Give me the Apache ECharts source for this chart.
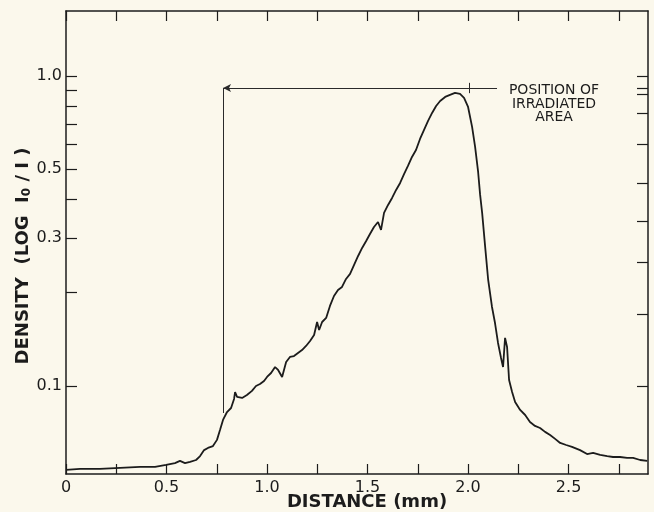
<!DOCTYPE html>
<html>
<head>
<meta charset="utf-8">
<script src="https://cdn.jsdelivr.net/npm/echarts@6/dist/echarts.min.js"></script>
<style>
  html, body { margin: 0; padding: 0; background: #fbf8ec; }
  #chart { width: 654px; height: 512px; }
</style>
</head>
<body>
<div id="chart"></div>
<script>
// Distance along the sample (mm)
const distance = [
  0.000, 0.070, 0.169, 0.269, 0.368, 0.443, 0.498, 0.542, 0.567, 0.592,
  0.617, 0.647, 0.667, 0.687, 0.706, 0.731, 0.751, 0.766, 0.781, 0.801,
  0.821, 0.836, 0.841, 0.851, 0.876, 0.900, 0.925, 0.945, 0.965, 0.985,
  1.000, 1.020, 1.040, 1.055, 1.075, 1.095, 1.114, 1.134, 1.154, 1.174,
  1.194, 1.214, 1.234, 1.249, 1.259, 1.274, 1.294, 1.313, 1.333, 1.353,
  1.373, 1.393, 1.413, 1.433, 1.453, 1.473, 1.493, 1.512, 1.532, 1.552,
  1.567, 1.582, 1.602, 1.622, 1.642, 1.662, 1.682, 1.701, 1.721, 1.741,
  1.761, 1.781, 1.801, 1.821, 1.841, 1.861, 1.886, 1.910, 1.935, 1.960,
  1.980, 2.000, 2.020, 2.035, 2.050, 2.060, 2.070, 2.085, 2.100, 2.119,
  2.134, 2.149, 2.164, 2.174, 2.184, 2.194, 2.204, 2.219, 2.234, 2.259,
  2.284, 2.308, 2.333, 2.358, 2.383, 2.408, 2.433, 2.458, 2.488, 2.517,
  2.557, 2.592, 2.622, 2.657, 2.692, 2.721, 2.756, 2.791, 2.821, 2.856,
  2.891
];
// Density (log I0/I)
const density = [
  0.0536, 0.0540, 0.0540, 0.0544, 0.0548, 0.0548, 0.0556, 0.0564, 0.0573, 0.0564,
  0.0569, 0.0577, 0.0594, 0.0621, 0.0631, 0.0640, 0.0670, 0.0721, 0.0777, 0.0824,
  0.0849, 0.0908, 0.0956, 0.0922, 0.0915, 0.0935, 0.0964, 0.1000, 0.1015, 0.1038,
  0.1069, 0.1101, 0.1151, 0.1126, 0.1069, 0.1195, 0.1240, 0.1249, 0.1278, 0.1306,
  0.1346, 0.1397, 0.1460, 0.1608, 0.1515, 0.1608, 0.1657, 0.1812, 0.1951, 0.2040,
  0.2086, 0.2214, 0.2298, 0.2457, 0.2626, 0.2787, 0.2935, 0.3092, 0.3258, 0.3381,
  0.3186, 0.3615, 0.3836, 0.4041, 0.4288, 0.4517, 0.4829, 0.5124, 0.5478, 0.5770,
  0.6263, 0.6696, 0.7158, 0.7597, 0.8003, 0.8305, 0.8556, 0.8685, 0.8815, 0.8749,
  0.8492, 0.7943, 0.6847, 0.5902, 0.4901, 0.4132, 0.3615, 0.2808, 0.2197, 0.1798,
  0.1596, 0.1376, 0.1231, 0.1151, 0.1429, 0.1336, 0.1045, 0.0956, 0.0888, 0.0837,
  0.0806, 0.0765, 0.0743, 0.0732, 0.0711, 0.0695, 0.0675, 0.0655, 0.0645, 0.0636,
  0.0621, 0.0603, 0.0608, 0.0599, 0.0594, 0.0590, 0.0590, 0.0586, 0.0586, 0.0577,
  0.0573
];

// Axis ticks and labels
const xLabelValues = [0, 0.5, 1.0, 1.5, 2.0, 2.5];
const xTickValues = [0, 0.25, 0.5, 0.75, 1.0, 1.25, 1.5, 1.75, 2.0, 2.25, 2.5, 2.75];
const yLabelValues = [0.1, 0.3, 0.5, 1.0];
const yTickValues = [0.1, 0.2, 0.3, 0.4, 0.5, 0.6, 0.7, 0.8, 0.9, 1.0];
const yRightTickValues = [0.1, 0.17, 0.25, 0.34, 0.45, 0.6, 0.76, 0.87, 0.91, 1.0];

// Irradiated-area bracket (mm / density)
const bracketLeft = 0.781;
const bracketMark = 2.005;
const bracketRight = 2.144;
const bracketLevel = 0.915;
const bracketBottom = 0.0818;
const annotationText = 'POSITION OF\nIRRADIATED\nAREA';

const ink = '#1c1c1c';
const FONT = 'DejaVu Sans';

const chart = echarts.init(document.getElementById('chart'), null, { renderer: 'canvas' });

const xAxisBase = {
  type: 'value', min: 0, max: 2.895,
  axisLine: { show: true, onZero: false, lineStyle: { color: ink, width: 1.5 } },
  splitLine: { show: false },
  axisTick: { show: true, inside: true, length: 10, customValues: xTickValues,
              lineStyle: { color: ink, width: 1.2 } }
};
const yAxisBase = {
  type: 'log', logBase: 10, min: 0.052, max: 1.62,
  axisLine: { show: true, onZero: false, lineStyle: { color: ink, width: 1.5 } },
  splitLine: { show: false },
  minorTick: { show: false }
};

const option = {
  backgroundColor: '#fbf8ec',
  animation: false,
  grid: { left: 66, right: 6, top: 11, bottom: 38, containLabel: false },
  xAxis: [
    Object.assign({}, xAxisBase, {
      position: 'bottom',
      axisLabel: { show: true, customValues: xLabelValues, color: ink, fontFamily: FONT,
                   fontSize: 16, margin: 6,
                   formatter: v => (v === 0 ? '0' : v.toFixed(1)) }
    }),
    Object.assign({}, xAxisBase, {
      position: 'top',
      axisLabel: { show: false }
    })
  ],
  yAxis: [
    Object.assign({}, yAxisBase, {
      position: 'left',
      axisTick: { show: true, inside: true, length: 11, customValues: yTickValues,
                  lineStyle: { color: ink, width: 1.2 } },
      axisLabel: { show: true, customValues: yLabelValues, color: ink, fontFamily: FONT,
                   fontSize: 16, margin: 4,
                   formatter: v => Number(v).toFixed(1) }
    }),
    Object.assign({}, yAxisBase, {
      position: 'right',
      axisTick: { show: true, inside: true, length: 11, customValues: yRightTickValues,
                  lineStyle: { color: ink, width: 1.2 } },
      axisLabel: { show: false }
    })
  ],
  graphic: [
    {
      type: 'text', x: 23, y: 256, rotation: Math.PI / 2,
      style: {
        text: '{a|DENSITY  (LOG  I}{s|0}{a| / I )}',
        align: 'center', verticalAlign: 'middle',
        rich: {
          a: { fontFamily: FONT, fontSize: 18, fontWeight: 'bold', fill: ink },
          s: { fontFamily: FONT, fontSize: 12, fontWeight: 'bold', fill: ink, padding: [8, 0, 0, 0] }
        }
      }
    },
    {
      type: 'text', x: 367, y: 502,
      style: { text: 'DISTANCE (mm)', fontFamily: FONT, fontSize: 18, fontWeight: 'bold', fill: ink,
               align: 'center', verticalAlign: 'middle' }
    },
    {
      type: 'text', x: 554, y: 104,
      style: { text: annotationText, fontFamily: FONT, fontSize: 14, lineHeight: 13.5,
               fill: ink, align: 'center', verticalAlign: 'middle' }
    }
  ],
  series: [
    {
      type: 'line',
      xAxisIndex: 0, yAxisIndex: 0,
      data: distance.map((d, i) => [d, density[i]]),
      showSymbol: false, symbol: 'none',
      lineStyle: { color: ink, width: 1.8 },
      smooth: false,
      markLine: {
        silent: true, animation: false,
        label: { show: false },
        lineStyle: { color: '#2a2a2a', width: 1, type: 'solid' },
        symbol: ['none', 'none'],
        data: [
          [ { coord: [bracketRight, bracketLevel], symbol: 'none' },
            { coord: [bracketLeft, bracketLevel], symbol: 'arrow', symbolSize: [6, 8] } ],
          [ { coord: [bracketLeft, bracketLevel] }, { coord: [bracketLeft, bracketBottom] } ],
          [ { coord: [bracketMark, 0.95] }, { coord: [bracketMark, 0.88] } ]
        ]
      }
    }
  ]
};
chart.setOption(option);
</script>
</body>
</html>
